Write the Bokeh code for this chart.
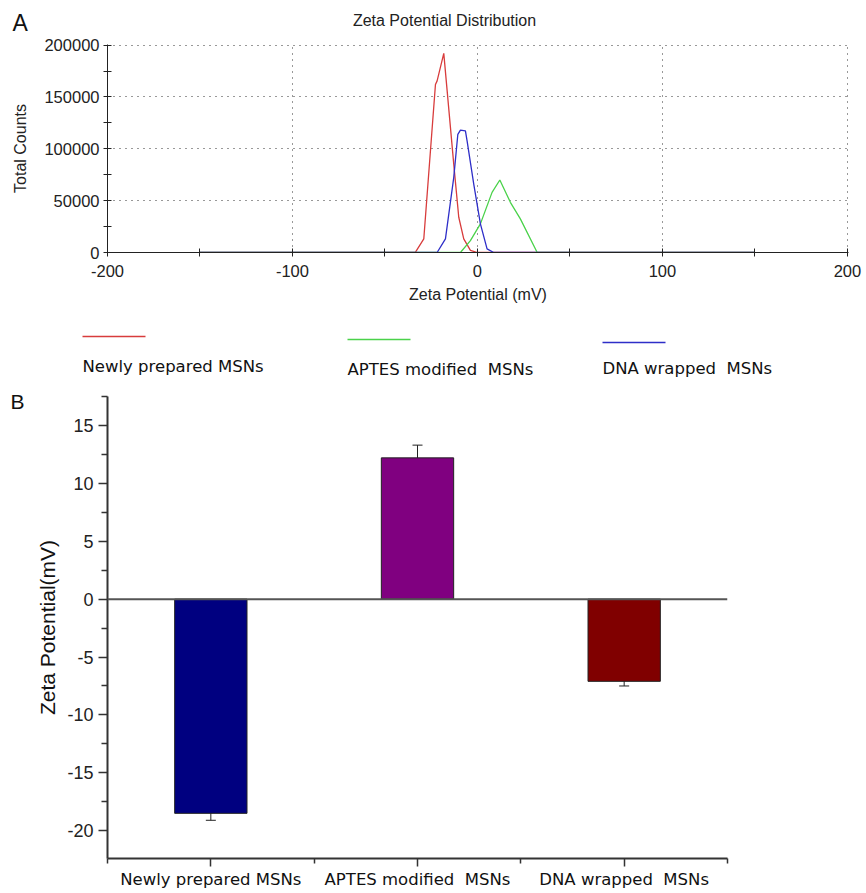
from bokeh.plotting import figure
from bokeh.layouts import column, row
from bokeh.models import (FixedTicker, Span, Whisker, TeeHead,
                          ColumnDataSource, BasicTickFormatter, Range1d)
from bokeh.core.properties import value
from bokeh.embed import file_html
from bokeh.resources import INLINE

# ---------------- Panel A data (zeta potential distribution) ----------------
series_names = ["Newly prepared MSNs", "APTES modified  MSNs", "DNA wrapped  MSNs"]

newly_x = [-150, -36, -33.5, -29, -22.7, -21.8, -18.2, -12.8, -10.1, -7.4, -3.8, 0, 150]
newly_y = [0, 0, 300, 13200, 162000, 165500, 192000, 85000, 34000, 13200, 2000, 0, 0]

aptes_x = [-150, -9.2, -3.8, 1.6, 7.9, 12.1, 17.8, 23.2, 32.3, 150]
aptes_y = [0, 0, 11500, 27600, 58000, 69900, 48400, 32400, 0, 0]

dna_x = [-150, -21.8, -17.3, -12.8, -10.6, -9.2, -6.5, -5.6, -2.0, 1.6, 5.2, 8.8, 150]
dna_y = [0, 0, 13200, 72400, 114000, 118000, 117300, 107700, 66000, 27600, 3500, 0, 0]

a_x_ticks = [-200, -100, 0, 100, 200]
a_x_minor = [-150, -50, 50, 150]
a_y_ticks = [0, 50000, 100000, 150000, 200000]
a_y_minor = [25000, 75000, 125000, 175000]

# ---------------- Panel B data (mean zeta potential) ----------------
categories = ["Newly prepared MSNs", "APTES modified  MSNs", "DNA wrapped  MSNs"]
zeta_mean = [-18.5, 12.2, -7.1]
zeta_err = [0.6, 1.1, 0.4]

b_y_ticks = [-20, -15, -10, -5, 0, 5, 10, 15]
b_y_minor = [-17.5, -12.5, -7.5, -2.5, 2.5, 7.5, 12.5, 17.5]

line_colors = ["#d83c3c", "#4ad24a", "#2e2ec8"]
bar_colors = ["#000080", "#800080", "#800000"]

ARIAL = "Liberation Sans"
VERD = "DejaVu Sans"


def keep_spaces(s):
    return s.replace("  ", " \u00a0")


def hyphen_overrides(ticks):
    return {t: str(t) for t in ticks if t < 0}


def blank_fig(w, h):
    f = figure(width=w, height=h, x_range=Range1d(0, w), y_range=Range1d(h, 0),
               output_backend="svg", toolbar_location=None,
               x_axis_type=None, y_axis_type=None, min_border=0)
    f.min_border_left = f.min_border_right = f.min_border_top = f.min_border_bottom = 0
    f.frame_align = False
    f.grid.visible = False
    f.outline_line_color = None
    f.background_fill_color = "white"
    f.border_fill_color = "white"
    return f


W_TOP = 864

# =============== Header (panel letter + title) ===============
hdr = blank_fig(W_TOP, 36)
hdr.text(x=[12], y=[22], text=["A"], text_font=value(ARIAL), text_font_size="23px",
         text_color="#111", text_baseline="middle", text_align="left")
hdr.text(x=[444], y=[20], text=["Zeta Potential Distribution"], text_font=value(ARIAL),
         text_font_size="16px", text_color="#222", text_baseline="middle",
         text_align="center")

# =============== Panel A ===============
pa = figure(width=W_TOP, height=282, x_range=Range1d(-200, 200.6), y_range=Range1d(0, 200600),
            output_backend="svg", toolbar_location=None,
            min_border_left=107, min_border_right=16, min_border_top=8, min_border_bottom=66)
pa.outline_line_color = None
pa.background_fill_color = "white"
pa.border_fill_color = "white"

xa = pa.xaxis[0]
xa.ticker = FixedTicker(ticks=a_x_ticks, minor_ticks=a_x_minor)
xa.major_label_overrides = hyphen_overrides(a_x_ticks)
ya = pa.yaxis[0]
ya.ticker = FixedTicker(ticks=a_y_ticks, minor_ticks=a_y_minor)
ya.formatter = BasicTickFormatter(use_scientific=False)
for ax in (xa, ya):
    ax.axis_line_color = "#222"
    ax.major_tick_line_color = "#222"
    ax.minor_tick_line_color = "#222"
    ax.major_tick_in = 4
    ax.major_tick_out = 4
    ax.minor_tick_in = 4
    ax.minor_tick_out = 4
    ax.major_label_text_font = ARIAL
    ax.major_label_text_font_size = "16.5px"
    ax.major_label_text_color = "#222"
    ax.axis_label_text_font = ARIAL
    ax.axis_label_text_font_style = "normal"
    ax.axis_label_text_font_size = "16px"
    ax.axis_label_text_color = "#222"
xa.axis_label = "Zeta Potential (mV)"
xa.major_label_standoff = 8
xa.axis_label_standoff = 6
ya.axis_label = "Total Counts"
ya.major_label_standoff = 4
ya.axis_label_standoff = 12

pa.xgrid.ticker = FixedTicker(ticks=[-100, 0, 100, 200])
pa.ygrid.ticker = FixedTicker(ticks=[50000, 100000, 150000, 200000])
for g in (pa.xgrid[0], pa.ygrid[0]):
    g.grid_line_color = "#333"
    g.grid_line_dash = "1 5"
    g.grid_line_width = 1

for xs, ys, col in zip([newly_x, aptes_x, dna_x], [newly_y, aptes_y, dna_y], line_colors):
    pa.line(xs, ys, line_color=col, line_width=1.3)

# =============== Legend strip ===============
leg = blank_fig(W_TOP, 70)
leg_x0 = [82, 347, 602]
leg_line_y = [18, 21, 24]
leg_text_y = [48, 51, 50]
leg.segment(x0=leg_x0, y0=leg_line_y, x1=[x + 63 for x in leg_x0], y1=leg_line_y,
            line_color=line_colors, line_width=1.6)
leg.text(x=leg_x0, y=leg_text_y, text=[keep_spaces(s) for s in series_names],
         text_font=value(VERD), text_font_size="16.5px", text_color="#111",
         text_baseline="middle", text_align="left")

# =============== Panel B ===============
H_B = 504
bfig = blank_fig(30, H_B)
bfig.text(x=[10], y=[13], text=["B"], text_font=value(ARIAL), text_font_size="21px",
          text_color="#111", text_baseline="middle", text_align="left")

pb = figure(width=717, height=H_B, x_range=Range1d(0, 3), y_range=Range1d(-22.4, 17.5),
            output_backend="svg", toolbar_location=None,
            min_border_left=77, min_border_right=20, min_border_top=8, min_border_bottom=34)
pb.outline_line_color = None
pb.grid.visible = False
pb.background_fill_color = "white"
pb.border_fill_color = "white"

xpos = [i + 0.5 for i in range(len(categories))]
src = ColumnDataSource(dict(
    x=xpos, top=zeta_mean,
    upper=[m + e for m, e in zip(zeta_mean, zeta_err)],
    lower=[m - e for m, e in zip(zeta_mean, zeta_err)],
    color=bar_colors))

pb.add_layout(Span(location=0, dimension="width", line_color="#555", line_width=2))
pb.vbar(x="x", top="top", bottom=0, width=0.35, fill_color="color",
        line_color="#222", line_width=1, source=src)
pb.add_layout(Whisker(source=src, base="x", upper="upper", lower="lower",
                      line_color="#222", line_width=1,
                      upper_head=TeeHead(size=10, line_color="#222", line_width=1),
                      lower_head=TeeHead(size=10, line_color="#222", line_width=1)))

xb = pb.xaxis[0]
xb.ticker = FixedTicker(ticks=xpos, minor_ticks=[0, 1, 2, 3])
xb.major_label_overrides = {x: keep_spaces(c) for x, c in zip(xpos, categories)}
xb.major_label_text_font = VERD
xb.major_label_text_font_size = "16.5px"
xb.major_label_text_color = "#111"
xb.major_label_standoff = 3
xb.major_tick_in = 0
xb.major_tick_out = 8
xb.minor_tick_in = 0
xb.minor_tick_out = 5

yb = pb.yaxis[0]
yb.ticker = FixedTicker(ticks=b_y_ticks, minor_ticks=b_y_minor)
yb.major_label_overrides = hyphen_overrides(b_y_ticks)
yb.major_label_text_font = ARIAL
yb.major_label_text_font_size = "18px"
yb.major_label_text_color = "#222"
yb.major_label_standoff = 5
yb.major_tick_in = 0
yb.major_tick_out = 9
yb.minor_tick_in = 0
yb.minor_tick_out = 6
yb.axis_label = "Zeta Potential(mV)"
yb.axis_label_text_font = ARIAL
yb.axis_label_text_font_style = "normal"
yb.axis_label_text_font_size = "21px"
yb.axis_label_text_color = "#111"
yb.axis_label_standoff = 5
for ax in (xb, yb):
    ax.axis_line_color = "#333"
    ax.axis_line_width = 2
    ax.major_tick_line_color = "#333"
    ax.minor_tick_line_color = "#333"
    ax.major_tick_line_width = 1.5
    ax.minor_tick_line_width = 1.5

layout = column(hdr, pa, leg, row(bfig, pb))
open("out.html", "w").write(file_html(layout, INLINE))
